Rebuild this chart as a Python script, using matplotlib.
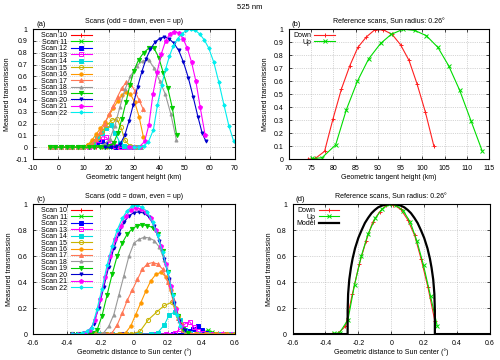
import matplotlib
matplotlib.use('Agg')
import matplotlib.pyplot as plt

# ---- panel (a): transmission vs tangent height (km), one pair of lists per scan
h10 = [-3.3, -1.1, 1.1, 3.3, 5.5, 7.7, 9.9, 11.6, 13.3, 15.0, 17.2, 19.4, 21.6, 23.8, 26.0, 28.2, 30.4, 32.6]
a10 = [0, 0, 0, 0, 0, 0, 0.004, 0.01, 0.008, 0.003, 0, 0, 0, 0, 0, 0, 0, 0]
h11 = [-3.3, -1.1, 1.1, 3.3, 5.5, 7.7, 9.9, 11.6, 13.3, 15.0, 17.2, 19.4, 21.6, 23.8, 26.0, 28.2, 30.4, 32.6]
a11 = [0, 0, 0, 0, 0, 0, 0.003, 0.012, 0.025, 0.02, 0.006, 0, 0, 0, 0, 0, 0, 0]
h12 = [-3.3, -1.1, 1.1, 3.3, 5.5, 7.7, 9.9, 11.8, 13.6, 15.4, 17.2, 19.0, 20.8, 23.0, 25.2, 27.4, 29.6, 31.8]
a12 = [0, 0, 0, 0, 0, 0, 0.002, 0.01, 0.025, 0.045, 0.05, 0.03, 0.01, 0, 0, 0, 0, 0]
h13 = [-3.3, -1.1, 1.1, 3.3, 5.5, 7.7, 9.9, 12.0, 14.0, 16.0, 17.5, 19.0, 20.5, 22.5, 24.5, 26.5, 28.5, 30.5, 32.5]
a13 = [0, 0, 0, 0, 0, 0, 0, 0.005, 0.02, 0.06, 0.09, 0.085, 0.04, 0.01, 0, 0, 0, 0, 0]
h14 = [-3.3, -1.1, 1.1, 3.3, 5.5, 7.7, 9.9, 11.8, 13.6, 15.4, 17.2, 19.0, 20.8, 22.6, 24.4, 26.2, 28.2, 30.2, 32.2]
a14 = [0, 0, 0, 0, 0, 0, 0.003, 0.015, 0.04, 0.08, 0.12, 0.16, 0.185, 0.12, 0.04, 0.008, 0, 0, 0]
h15 = [-3.3, -1.1, 1.1, 3.3, 5.5, 7.7, 9.9, 11.8, 13.7, 15.6, 17.5, 19.4, 21.3, 23.2, 24.8, 26.4, 28.4, 30.4, 32.4]
a15 = [0, 0, 0, 0, 0, 0, 0.005, 0.02, 0.05, 0.09, 0.14, 0.19, 0.23, 0.24, 0.17, 0.06, 0.01, 0, 0]
h16 = [-3.3, -1.1, 1.1, 3.3, 5.5, 7.7, 9.9, 11.6, 13.3, 15.0, 16.7, 18.4, 20.1, 21.8, 23.5, 25.2, 26.9, 28.6, 30.3, 32.0, 33.7]
a16 = [0, 0, 0, 0, 0, 0, 0.005, 0.02, 0.06, 0.11, 0.16, 0.21, 0.27, 0.33, 0.39, 0.44, 0.47, 0.45, 0.38, 0.26, 0.09]
h17 = [-3.3, -1.1, 1.1, 3.3, 5.5, 7.7, 9.9, 11.6, 13.3, 15.0, 16.7, 18.4, 20.1, 21.8, 23.5, 25.2, 26.9, 28.6, 30.3, 32.0, 33.7]
a17 = [0, 0, 0, 0, 0, 0, 0.003, 0.01, 0.03, 0.07, 0.13, 0.2, 0.28, 0.35, 0.43, 0.5, 0.55, 0.54, 0.48, 0.4, 0.32]
h18 = [-3.3, -1.1, 1.1, 3.3, 5.5, 7.7, 9.9, 12.1, 14.3, 16.4, 18.4, 20.4, 22.4, 24.4, 26.4, 28.6, 31.0, 33.4, 35.8, 38.0, 40.2, 42.4, 44.6, 46.8]
a18 = [0, 0, 0, 0, 0, 0, 0, 0.002, 0.005, 0.01, 0.03, 0.07, 0.18, 0.34, 0.49, 0.6, 0.69, 0.73, 0.74, 0.67, 0.56, 0.45, 0.28, 0.06]
h19 = [-3.3, -1.1, 1.1, 3.3, 5.5, 7.7, 9.9, 12.1, 14.3, 16.5, 18.7, 20.4, 22.0, 23.6, 25.2, 26.8, 28.4, 30.0, 31.8, 33.8, 35.9, 37.9, 39.8, 41.6, 43.4, 45.2, 46.9]
a19 = [0, 0, 0, 0, 0, 0, 0, 0, 0.002, 0.004, 0.006, 0.01, 0.04, 0.12, 0.24, 0.38, 0.53, 0.65, 0.74, 0.8, 0.84, 0.84, 0.76, 0.63, 0.5, 0.33, 0.1]
h20 = [18.5, 20.7, 22.9, 24.6, 26.3, 28.0, 29.7, 31.4, 33.1, 34.8, 36.5, 38.3, 40.1, 42.0, 43.9, 45.8, 47.7, 49.6, 51.5, 53.4, 55.3, 57.0, 58.4]
a20 = [0, 0, 0.005, 0.03, 0.1, 0.22, 0.36, 0.51, 0.64, 0.75, 0.83, 0.89, 0.92, 0.935, 0.92, 0.88, 0.82, 0.72, 0.59, 0.43, 0.26, 0.12, 0.055]
h21 = [28.0, 30.0, 32.2, 34.2, 35.9, 37.5, 39.2, 40.8, 42.5, 44.2, 46.0, 47.7, 49.4, 51.1, 52.8, 54.5, 56.2, 58.2]
a21 = [0, 0, 0.005, 0.05, 0.19, 0.45, 0.64, 0.79, 0.9, 0.96, 0.98, 0.97, 0.92, 0.84, 0.72, 0.56, 0.34, 0.1]
h22 = [30.0, 32.0, 33.8, 35.7, 37.7, 39.3, 41.0, 42.5, 44.0, 45.6, 47.3, 49.0, 50.7, 52.4, 54.2, 56.0, 57.8, 59.6, 61.6, 63.6, 65.6, 67.6, 69.5]
a22 = [0, 0, 0.01, 0.045, 0.15, 0.36, 0.53, 0.66, 0.77, 0.86, 0.92, 0.96, 0.99, 1.0, 0.99, 0.96, 0.91, 0.84, 0.72, 0.55, 0.36, 0.18, 0.05]

# ---- panel (c): transmission vs distance to sun center (deg)
d10 = [-0.37, -0.27, -0.17, -0.07, 0.03, 0.13, 0.23, 0.33, 0.43, 0.47, 0.5, 0.53, 0.56, 0.6]
c10 = [0, 0, 0, 0, 0, 0, 0, 0, 0.002, 0.006, 0.01, 0.005, 0.002, 0]
d11 = [-0.37, -0.27, -0.17, -0.07, 0.03, 0.13, 0.23, 0.33, 0.385, 0.412, 0.438, 0.466, 0.49, 0.52, 0.56, 0.6]
c11 = [0, 0, 0, 0, 0, 0, 0, 0, 0.003, 0.012, 0.03, 0.015, 0.004, 0, 0, 0]
d12 = [-0.37, -0.27, -0.17, -0.07, 0.03, 0.13, 0.23, 0.29, 0.325, 0.352, 0.378, 0.404, 0.43, 0.46, 0.5, 0.55, 0.6]
c12 = [0, 0, 0, 0, 0, 0, 0, 0.005, 0.02, 0.04, 0.06, 0.035, 0.01, 0, 0, 0, 0]
d13 = [-0.37, -0.29, -0.21, -0.13, -0.05, 0.03, 0.11, 0.19, 0.245, 0.275, 0.305, 0.33, 0.355, 0.38, 0.41, 0.46, 0.52, 0.58]
c13 = [0, 0, 0, 0, 0, 0, 0, 0, 0.01, 0.04, 0.08, 0.095, 0.055, 0.02, 0.005, 0, 0, 0]
d14 = [-0.37, -0.29, -0.21, -0.13, -0.05, 0.03, 0.1, 0.14, 0.18, 0.21, 0.245, 0.275, 0.3, 0.33, 0.38, 0.44, 0.5, 0.56, 0.6]
c14 = [0, 0, 0, 0, 0, 0, 0, 0.01, 0.07, 0.15, 0.17, 0.11, 0.03, 0.005, 0, 0, 0, 0, 0]
d15 = [-0.37, -0.3, -0.23, -0.16, -0.09, -0.02, 0.035, 0.085, 0.135, 0.18, 0.225, 0.26, 0.29, 0.32, 0.37, 0.43, 0.49, 0.55, 0.6]
c15 = [0, 0, 0, 0, 0, 0, 0.02, 0.11, 0.17, 0.22, 0.245, 0.14, 0.04, 0.005, 0, 0, 0, 0, 0]
d16 = [-0.37, -0.31, -0.25, -0.19, -0.13, -0.08, -0.05, -0.02, 0.01, 0.04, 0.07, 0.1, 0.13, 0.16, 0.19, 0.22, 0.25, 0.28, 0.31, 0.36, 0.42, 0.48, 0.54, 0.6]
c16 = [0, 0, 0, 0, 0, 0, 0.01, 0.06, 0.15, 0.24, 0.33, 0.41, 0.46, 0.475, 0.44, 0.34, 0.2, 0.08, 0.01, 0, 0, 0, 0, 0]
d17 = [-0.37, -0.32, -0.27, -0.22, -0.17, -0.13, -0.1, -0.07, -0.04, -0.01, 0.02, 0.05, 0.08, 0.11, 0.14, 0.17, 0.2, 0.23, 0.26, 0.29, 0.33, 0.38, 0.44, 0.5, 0.56]
c17 = [0, 0, 0, 0, 0, 0.01, 0.07, 0.16, 0.26, 0.34, 0.42, 0.5, 0.54, 0.55, 0.54, 0.5, 0.4, 0.27, 0.12, 0.03, 0.005, 0, 0, 0, 0]
d18 = [-0.37, -0.33, -0.29, -0.25, -0.21, -0.18, -0.15, -0.12, -0.09, -0.06, -0.03, 0.0, 0.03, 0.06, 0.09, 0.12, 0.15, 0.18, 0.21, 0.24, 0.27, 0.3]
c18 = [0, 0, 0, 0, 0, 0.01, 0.06, 0.15, 0.3, 0.45, 0.6, 0.7, 0.73, 0.745, 0.74, 0.72, 0.67, 0.57, 0.43, 0.25, 0.1, 0.02]
d19 = [-0.37, -0.33, -0.29, -0.25, -0.22, -0.19, -0.16, -0.13, -0.1, -0.07, -0.04, -0.01, 0.02, 0.05, 0.08, 0.11, 0.14, 0.17, 0.2, 0.23, 0.26, 0.29, 0.32]
c19 = [0, 0, 0, 0.005, 0.03, 0.14, 0.3, 0.46, 0.6, 0.7, 0.77, 0.81, 0.835, 0.84, 0.835, 0.82, 0.77, 0.64, 0.48, 0.3, 0.14, 0.04, 0.01]
d20 = [-0.37, -0.33, -0.3, -0.27, -0.24, -0.21, -0.18, -0.15, -0.12, -0.09, -0.06, -0.03, 0.0, 0.03, 0.06, 0.09, 0.12, 0.15, 0.18, 0.21, 0.24, 0.27, 0.3]
c20 = [0, 0, 0.005, 0.02, 0.08, 0.2, 0.36, 0.52, 0.66, 0.77, 0.86, 0.91, 0.935, 0.94, 0.93, 0.9, 0.83, 0.72, 0.58, 0.42, 0.24, 0.1, 0.03]
d21 = [-0.37, -0.33, -0.29, -0.26, -0.23, -0.2, -0.17, -0.14, -0.11, -0.08, -0.05, -0.02, 0.01, 0.04, 0.07, 0.1, 0.13, 0.16, 0.19, 0.22, 0.25, 0.28]
c21 = [0, 0, 0.005, 0.03, 0.11, 0.27, 0.44, 0.6, 0.73, 0.83, 0.91, 0.955, 0.97, 0.965, 0.94, 0.89, 0.8, 0.68, 0.54, 0.37, 0.19, 0.06]
d22 = [-0.37, -0.34, -0.31, -0.28, -0.25, -0.22, -0.19, -0.16, -0.13, -0.1, -0.07, -0.04, -0.01, 0.02, 0.05, 0.08, 0.11, 0.14, 0.17, 0.2, 0.23, 0.255, 0.275]
c22 = [0, 0, 0.005, 0.02, 0.05, 0.19, 0.35, 0.53, 0.68, 0.8, 0.89, 0.95, 0.985, 0.99, 0.975, 0.94, 0.86, 0.76, 0.63, 0.48, 0.3, 0.15, 0.06]

scan_ids = [10, 11, 12, 13, 14, 15, 16, 17, 18, 19, 20, 21, 22]

# ---- reference scans, panels (b) and (d)
down_h = [74.3, 75.9, 78.0, 79.9, 81.8, 83.7, 85.5, 87.4, 89.3, 91.2, 93.2, 95.1, 97.0, 98.8, 100.7, 102.6]
down_d = [-0.36, -0.325, -0.278, -0.236, -0.194, -0.152, -0.113, -0.071, -0.029, 0.013, 0.058, 0.1, 0.142, 0.181, 0.223, 0.265]
down_t = [0.0, 0.005, 0.06, 0.31, 0.54, 0.72, 0.86, 0.94, 0.995, 0.995, 0.96, 0.88, 0.76, 0.58, 0.36, 0.1]
up_h = [75.2, 77.4, 80.5, 82.9, 85.4, 87.9, 90.6, 93.0, 95.7, 98.3, 100.9, 103.5, 105.9, 108.4, 111.0, 113.5]
up_d = [-0.35, -0.314, -0.263, -0.223, -0.182, -0.141, -0.097, -0.057, -0.013, 0.03, 0.073, 0.116, 0.155, 0.196, 0.239, 0.28]
up_t = [0.005, 0.01, 0.11, 0.38, 0.6, 0.77, 0.89, 0.96, 1.0, 0.99, 0.95, 0.86, 0.72, 0.53, 0.29, 0.06]
model_d = [-0.6, -0.265, -0.265, -0.262, -0.255, -0.245, -0.235, -0.22, -0.2, -0.18, -0.16, -0.14, -0.12, -0.1,
           -0.08, -0.06, -0.04, -0.02, 0.0, 0.02, 0.04, 0.06, 0.08, 0.1, 0.12, 0.14, 0.16, 0.18, 0.2, 0.22,
           0.235, 0.245, 0.255, 0.262, 0.265, 0.265, 0.6]
model_t = [0.0, 0.0, 0.18, 0.31, 0.42, 0.51, 0.58, 0.66, 0.74, 0.8, 0.855, 0.895, 0.93, 0.955,
           0.975, 0.987, 0.995, 0.999, 1.0, 0.999, 0.995, 0.987, 0.975, 0.955, 0.93, 0.895, 0.855, 0.8, 0.74, 0.66,
           0.58, 0.51, 0.42, 0.31, 0.18, 0.0, 0.0]

heights = [h10, h11, h12, h13, h14, h15, h16, h17, h18, h19, h20, h21, h22]
trans_a = [a10, a11, a12, a13, a14, a15, a16, a17, a18, a19, a20, a21, a22]
dists = [d10, d11, d12, d13, d14, d15, d16, d17, d18, d19, d20, d21, d22]
trans_c = [c10, c11, c12, c13, c14, c15, c16, c17, c18, c19, c20, c21, c22]

colors = ['#ff0000', '#00dd00', '#0000ff', '#ff00ff', '#00dddd', '#c8b400', '#ff9900',
          '#ff7755', '#999999', '#00cc00', '#0000cc', '#ff00ff', '#00eeee']
markers = ['+', 'x', 's', 's', 's', 'o', 'o', '^', '^', 'v', 'v', 'p', 'D']
filled = [True, True, True, False, True, False, True, True, True, True, True, True, True]
msizes = [3.5, 2.5, 2.2, 2.8, 2.2, 3.0, 2.4, 2.8, 2.2, 3.0, 2.2, 3.0, 1.8]

plt.rcParams['font.family'] = ['Liberation Sans', 'DejaVu Sans']
plt.rcParams['font.size'] = 5

fig = plt.figure(figsize=(5, 3.6), dpi=100)
ax_a = fig.add_axes([0.066, 0.558, 0.404, 0.361])
ax_b = fig.add_axes([0.578, 0.558, 0.400, 0.361])
ax_c = fig.add_axes([0.066, 0.072, 0.404, 0.361])
ax_d = fig.add_axes([0.585, 0.072, 0.395, 0.361])

fig.text(0.5, 0.978, '525 nm', ha='center', va='center', fontsize=5.5)


def style(ax, xt, xl, yt, yl, label, title, xlabel):
    ax.set_xticks(xt)
    ax.set_xticklabels(xl)
    ax.set_yticks(yt)
    ax.set_yticklabels(yl)
    ax.tick_params(direction='in', top=True, right=True, length=2.5, width=0.5, pad=4, labelsize=5)
    ax.grid(True, linestyle=':', color='#b0b0b0', linewidth=0.5)
    for s in ax.spines.values():
        s.set_linewidth(0.8)
    ax.set_title(title, fontsize=5, pad=4.5)
    ax.text(0.015, 1.012, label, transform=ax.transAxes, ha='left', va='bottom', fontsize=5.5)
    ax.set_xlabel(xlabel, fontsize=5, labelpad=1.5)
    ax.set_ylabel('Measured transmission', fontsize=5, labelpad=3)


for xs_list, ys_list, ax in [(heights, trans_a, ax_a), (dists, trans_c, ax_c)]:
    for i, sid in enumerate(scan_ids):
        ax.plot(xs_list[i], ys_list[i], color=colors[i], marker=markers[i], markersize=msizes[i],
                markerfacecolor=colors[i] if filled[i] else 'none', markeredgewidth=0.7,
                linewidth=0.8, label='Scan %d' % sid)
    ax.legend(loc='upper left', bbox_to_anchor=(0.04, 0.975), frameon=False, markerfirst=False,
              fontsize=5, handlelength=2.9, handletextpad=0.6, labelspacing=-0.08,
              borderpad=0, borderaxespad=0)

ax_a.set_xlim(-10, 70)
ax_a.set_ylim(-0.1, 1)
style(ax_a, [-10, 0, 10, 20, 30, 40, 50, 60, 70], ['-10', '0', '10', '20', '30', '40', '50', '60', '70'],
      [-0.1, 0, 0.1, 0.2, 0.3, 0.4, 0.5, 0.6, 0.7, 0.8, 0.9, 1.0],
      ['-0.1', '0', '0.1', '0.2', '0.3', '0.4', '0.5', '0.6', '0.7', '0.8', '0.9', '1'],
      '(a)', 'Scans (odd = down, even = up)', 'Geometric tangent height (km)')

dist_ticks = [-0.6, -0.4, -0.2, 0, 0.2, 0.4, 0.6]
dist_labels = ['-0.6', '-0.4', '-0.2', '0', '0.2', '0.4', '0.6']
ax_c.set_xlim(-0.6, 0.6)
ax_c.set_ylim(0, 1)
style(ax_c, dist_ticks, dist_labels, [0, 0.2, 0.4, 0.6, 0.8, 1.0], ['0', '0.2', '0.4', '0.6', '0.8', '1'],
      '(c)', 'Scans (odd = down, even = up)', 'Geometric distance to Sun center (°)')

ax_b.plot(down_h, down_t, color='#ff2020', marker='+', markersize=3.5, markeredgewidth=0.7, linewidth=0.8, label='Down')
ax_b.plot(up_h, up_t, color='#00dd00', marker='x', markersize=2.8, markeredgewidth=0.7, linewidth=0.8, label='Up')
ax_b.set_xlim(70, 115)
ax_b.set_ylim(0, 1)
style(ax_b, [70, 75, 80, 85, 90, 95, 100, 105, 110, 115], ['70', '75', '80', '85', '90', '95', '100', '105', '110', '115'],
      [0, 0.1, 0.2, 0.3, 0.4, 0.5, 0.6, 0.7, 0.8, 0.9, 1.0],
      ['0', '0.1', '0.2', '0.3', '0.4', '0.5', '0.6', '0.7', '0.8', '0.9', '1'],
      '(b)', 'Reference scans, Sun radius: 0.26°', 'Geometric tangent height (km)')
ax_b.legend(loc='upper left', bbox_to_anchor=(0.02, 0.975), frameon=False, markerfirst=False,
            fontsize=5, handlelength=2.9, handletextpad=0.5, labelspacing=-0.1, borderpad=0, borderaxespad=0)

ax_d.plot(down_d, down_t, color='#ff2020', marker='+', markersize=3.5, markeredgewidth=0.7, linewidth=0.8, label='Down')
ax_d.plot(up_d, up_t, color='#00dd00', marker='x', markersize=2.8, markeredgewidth=0.7, linewidth=0.8, label='Up')
ax_d.plot(model_d, model_t, color='black', linewidth=1.6, label='Model')
ax_d.set_xlim(-0.6, 0.6)
ax_d.set_ylim(0, 1)
style(ax_d, dist_ticks, dist_labels, [0, 0.2, 0.4, 0.6, 0.8, 1.0], ['0', '0.2', '0.4', '0.6', '0.8', '1'],
      '(d)', 'Reference scans, Sun radius: 0.26°', 'Geometric distance to Sun center (°)')
ax_d.legend(loc='upper left', bbox_to_anchor=(0.02, 0.975), frameon=False, markerfirst=False,
            fontsize=5, handlelength=2.9, handletextpad=0.5, labelspacing=-0.1, borderpad=0, borderaxespad=0)

fig.savefig('out.png', dpi=100)
